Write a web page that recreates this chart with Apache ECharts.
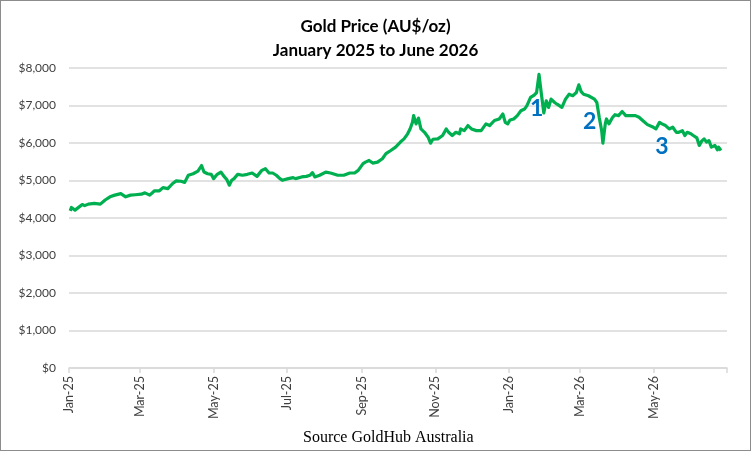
<!DOCTYPE html>
<html>
<head>
<meta charset="utf-8">
<script src="https://cdn.jsdelivr.net/npm/echarts@6/dist/echarts.min.js"></script>
<style>
  html, body { margin: 0; padding: 0; background: #fff; }
  #chart { width: 751px; height: 451px; box-sizing: border-box; border: 1px solid #8c8c8c; }
</style>
</head>
<body>
<div id="chart"></div>
<script>
// ---- Data ----
const dates = [
  '2025-01-02','2025-01-03','2025-01-06','2025-01-12','2025-01-14','2025-01-17','2025-01-22','2025-01-27','2025-01-31',
  '2025-02-04','2025-02-08','2025-02-13','2025-02-17','2025-02-21','2025-02-25','2025-03-02','2025-03-05','2025-03-09',
  '2025-03-13','2025-03-17','2025-03-20','2025-03-24','2025-03-28','2025-03-31','2025-04-04','2025-04-07','2025-04-10',
  '2025-04-14','2025-04-18','2025-04-21','2025-04-23','2025-04-26','2025-04-29','2025-05-01','2025-05-04','2025-05-07',
  '2025-05-10','2025-05-12','2025-05-14','2025-05-16','2025-05-18','2025-05-21','2025-05-25','2025-05-29','2025-06-02',
  '2025-06-06','2025-06-10','2025-06-13','2025-06-16','2025-06-19','2025-06-22','2025-06-25','2025-06-27','2025-07-02',
  '2025-07-06','2025-07-08','2025-07-13','2025-07-17','2025-07-20','2025-07-22','2025-07-24','2025-07-28','2025-08-02',
  '2025-08-06','2025-08-12','2025-08-17','2025-08-22','2025-08-26','2025-08-29','2025-09-02','2025-09-04','2025-09-07',
  '2025-09-10','2025-09-14','2025-09-18','2025-09-21','2025-09-25','2025-09-29','2025-10-03','2025-10-06','2025-10-09',
  '2025-10-11','2025-10-13','2025-10-14','2025-10-16','2025-10-18','2025-10-20','2025-10-23','2025-10-26','2025-10-28',
  '2025-10-30','2025-11-03','2025-11-07','2025-11-10','2025-11-12','2025-11-15','2025-11-18','2025-11-21','2025-11-22',
  '2025-11-25','2025-11-28','2025-12-01','2025-12-05','2025-12-09','2025-12-13','2025-12-16','2025-12-20','2025-12-24',
  '2025-12-27','2025-12-29','2025-12-31','2026-01-02','2026-01-05','2026-01-08','2026-01-11','2026-01-14','2026-01-16',
  '2026-01-19','2026-01-22','2026-01-24','2026-01-26','2026-01-28','2026-01-30','2026-02-01','2026-02-03','2026-02-05',
  '2026-02-08','2026-02-10','2026-02-14','2026-02-17','2026-02-20','2026-02-23','2026-02-26','2026-02-28','2026-03-02',
  '2026-03-04','2026-03-08','2026-03-13','2026-03-15','2026-03-17','2026-03-19','2026-03-20','2026-03-22','2026-03-23',
  '2026-03-25','2026-03-28','2026-03-30','2026-04-02','2026-04-05','2026-04-08','2026-04-12','2026-04-16','2026-04-19',
  '2026-04-22','2026-04-26','2026-04-30','2026-05-03','2026-05-06','2026-05-08','2026-05-11','2026-05-14','2026-05-17',
  '2026-05-20','2026-05-22','2026-05-25','2026-05-27','2026-05-29','2026-06-01','2026-06-03','2026-06-06','2026-06-08',
  '2026-06-10','2026-06-12','2026-06-14','2026-06-16','2026-06-18','2026-06-21','2026-06-23','2026-06-24','2026-06-26'
];
const prices = [
  4190,4280,4210,4360,4330,4370,4390,4370,4480,
  4565,4610,4650,4565,4610,4620,4635,4670,4610,
  4725,4725,4810,4785,4920,4990,4980,4950,5140,
  5180,5250,5400,5225,5180,5165,5050,5165,5225,
  5095,5025,4875,5005,5050,5165,5140,5165,5200,
  5110,5270,5315,5200,5200,5140,5050,5005,5050,
  5075,5050,5095,5110,5140,5210,5095,5140,5225,
  5200,5140,5140,5200,5200,5270,5450,5490,5535,
  5465,5490,5580,5715,5800,5890,6025,6110,6245,
  6375,6550,6730,6510,6665,6375,6285,6155,5995,
  6100,6110,6200,6375,6285,6200,6285,6245,6375,
  6330,6465,6375,6330,6330,6510,6465,6600,6640,
  6775,6550,6510,6615,6640,6730,6860,6905,6995,
  7215,7275,7345,7830,7300,6800,7125,6950,7170,
  7080,7035,6950,7170,7300,7260,7345,7550,7370,
  7300,7260,7170,7080,6680,6330,5995,6510,6640,
  6510,6680,6755,6730,6840,6730,6730,6730,6685,
  6600,6490,6435,6375,6550,6510,6465,6375,6420,
  6285,6285,6330,6200,6285,6245,6200,6135,5935,
  6050,6110,6025,6065,5890,5935,5820,5890,5800
];
const tickDates  = ['2025-01-01','2025-03-01','2025-05-01','2025-07-01','2025-09-01','2025-11-01','2026-01-01','2026-03-01','2026-05-01','2026-07-01'];
const tickLabels = ['Jan-25','Mar-25','May-25','Jul-25','Sep-25','Nov-25','Jan-26','Mar-26','May-26',''];
const yTicks = [0,1000,2000,3000,4000,5000,6000,7000,8000];
const notes = [
  { text: '1', date: '2026-01-24', value: 6920 },
  { text: '2', date: '2026-03-09', value: 6560 },
  { text: '3', date: '2026-05-08', value: 5900 }
];
const axisStart = '2025-01-01';
const axisEnd = '2026-07-01';

// ---- Build the daily category axis ----
function fmt(d) {
  const m = d.getUTCMonth() + 1, day = d.getUTCDate();
  return d.getUTCFullYear() + '-' + (m < 10 ? '0' : '') + m + '-' + (day < 10 ? '0' : '') + day;
}
const days = [];
for (let t = Date.parse(axisStart + 'T00:00:00Z'); t <= Date.parse(axisEnd + 'T00:00:00Z'); t += 86400000) {
  days.push(fmt(new Date(t)));
}
const tickSet = new Set(tickDates);
const labelMap = {};
tickDates.forEach((d, i) => { labelMap[d] = tickLabels[i]; });

const chart = echarts.init(document.getElementById('chart'), null, { renderer: 'canvas' });
const FONT = 'Lato, "Open Sans", sans-serif';

chart.setOption({
  animation: false,
  backgroundColor: '#ffffff',
  title: {
    text: 'Gold Price (AU$/oz)\nJanuary 2025 to June 2026',
    left: 'center',
    top: 9,
    textStyle: { fontFamily: FONT, fontWeight: 'bold', fontSize: 17, lineHeight: 24, color: '#000000' }
  },
  grid: { left: 68, right: 23, top: 67, bottom: 82, containLabel: false },
  xAxis: {
    type: 'category',
    data: days,
    boundaryGap: false,
    axisLine: { show: true, lineStyle: { color: '#d9d9d9', width: 1.5 } },
    axisTick: {
      show: true,
      length: 5,
      lineStyle: { color: '#d9d9d9', width: 1.5 },
      interval: (idx, val) => tickSet.has(val)
    },
    axisLabel: {
      interval: (idx, val) => tickSet.has(val) && labelMap[val] !== '',
      formatter: (val) => labelMap[val] || '',
      rotate: 90,
      margin: 8,
      fontFamily: FONT,
      fontSize: 12.5,
      color: '#404040'
    },
    splitLine: { show: false }
  },
  yAxis: {
    type: 'value',
    min: yTicks[0],
    max: yTicks[yTicks.length - 1],
    interval: 1000,
    axisLine: { show: false },
    axisTick: { show: false },
    axisLabel: {
      margin: 13,
      fontFamily: FONT,
      fontSize: 12,
      color: '#404040',
      formatter: (v) => '$' + v.toLocaleString('en-US')
    },
    splitLine: { lineStyle: { color: '#d9d9d9', width: 1.5 } }
  },
  series: [{
    type: 'line',
    data: dates.map((d, i) => [d, prices[i]]),
    showSymbol: false,
    symbol: 'none',
    lineStyle: { color: '#00b050', width: 3.2, join: 'round' },
    itemStyle: { color: '#00b050' },
    markPoint: {
      symbol: 'circle',
      symbolSize: 0,
      silent: true,
      data: notes.map(n => ({
        coord: [n.date, n.value],
        label: {
          show: true,
          formatter: n.text,
          position: 'inside',
          fontFamily: FONT,
          fontWeight: 'bold',
          fontSize: 23,
          color: '#0070c0'
        }
      }))
    }
  }],
  graphic: [{
    type: 'text',
    left: 302,
    top: 429,
    style: {
      text: 'Source GoldHub Australia',
      font: '16px "Liberation Serif", "DejaVu Serif", serif',
      fill: '#000000'
    }
  }]
});
</script>
</body>
</html>
